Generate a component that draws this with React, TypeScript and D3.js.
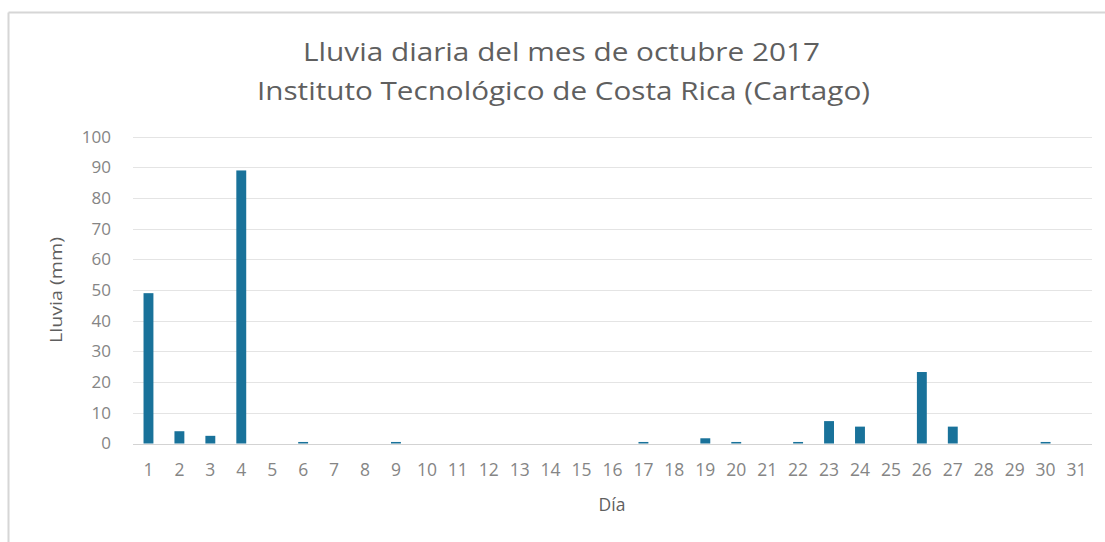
import React from "react";
import * as d3 from "d3";

// Daily rainfall, October 2017 (mm)
const days: string[] = Array.from({ length: 31 }, (_, i) => String(i + 1));
const rainfall: number[] = [
  49, 4, 2.5, 89, 0, 0.5, 0, 0, 0.5, 0,
  0, 0, 0, 0, 0, 0, 0.5, 0, 1.7, 0.5,
  0, 0.5, 7.3, 5.5, 0, 23.3, 5.5, 0, 0, 0.5,
  0,
];
const yTicks: number[] = [0, 10, 20, 30, 40, 50, 60, 70, 80, 90, 100];
const titleLines: string[] = [
  "Lluvia diaria del mes de octubre 2017",
  "Instituto Tecnológico de Costa Rica (Cartago)",
];
const yAxisTitle = "Lluvia (mm)";
const xAxisTitle = "Día";

const W = 1105;
const H = 542;
const FONT = "'Open Sans', 'Noto Sans', sans-serif";

export default function App() {
  const x = d3
    .scaleBand<string>()
    .domain(days)
    .range([133, 1092])
    .paddingInner(0.68)
    .paddingOuter(0.34);
  const y = d3.scaleLinear().domain([0, 100]).range([443.5, 136.7]);

  return (
    <svg
      width={W}
      height={H}
      style={{ position: "absolute", left: 0, top: 0, display: "block", background: "#fff" }}
    >
      {/* chart frame (top and left edges) */}
      <line x1={8.5} x2={W} y1={12.5} y2={12.5} stroke="#d6d6d6" strokeWidth={2} />
      <line x1={8.5} x2={8.5} y1={12.5} y2={H} stroke="#d6d6d6" strokeWidth={2} />

      {/* titles */}
      <text x={303} y={61} fontFamily={FONT} fontSize={25} fill="#5f5f5f" textLength={517} lengthAdjust="spacingAndGlyphs">
        {titleLines[0]}
      </text>
      <text x={257} y={100} fontFamily={FONT} fontSize={25} fill="#5f5f5f" textLength={613} lengthAdjust="spacingAndGlyphs">
        {titleLines[1]}
      </text>

      {/* gridlines and y tick labels */}
      {yTicks.map((t) => (
        <g key={t}>
          <line
            x1={133}
            x2={1092}
            y1={Math.round(y(t)) + 0.5}
            y2={Math.round(y(t)) + 0.5}
            stroke={t === 0 ? "#d3d3d3" : "#e4e4e4"}
            strokeWidth={1}
          />
          <text
            x={111}
            y={y(t)}
            dy="0.35em"
            textAnchor="end"
            fontFamily={FONT}
            fontSize={17}
            fill="#858585"
          >
            {t}
          </text>
        </g>
      ))}

      {/* bars */}
      {rainfall.map((v, i) => (
        <rect
          key={days[i]}
          x={x(days[i])}
          y={y(v)}
          width={x.bandwidth()}
          height={y(0) - y(v)}
          fill="#19729a"
        />
      ))}

      {/* x tick labels */}
      {days.map((d) => (
        <text
          key={d}
          x={(x(d) as number) + x.bandwidth() / 2}
          y={475.5}
          textAnchor="middle"
          fontFamily={FONT}
          fontSize={17.5}
          fill="#858585"
        >
          {d}
        </text>
      ))}

      {/* axis titles */}
      <text
        transform="translate(62,290) rotate(-90)"
        textAnchor="middle"
        fontFamily={FONT}
        fontSize={17}
        fill="#5f5f5f"
        textLength={106}
        lengthAdjust="spacingAndGlyphs"
      >
        {yAxisTitle}
      </text>
      <text x={612} y={511} textAnchor="middle" fontFamily={FONT} fontSize={17.5} fill="#5f5f5f">
        {xAxisTitle}
      </text>
    </svg>
  );
}
